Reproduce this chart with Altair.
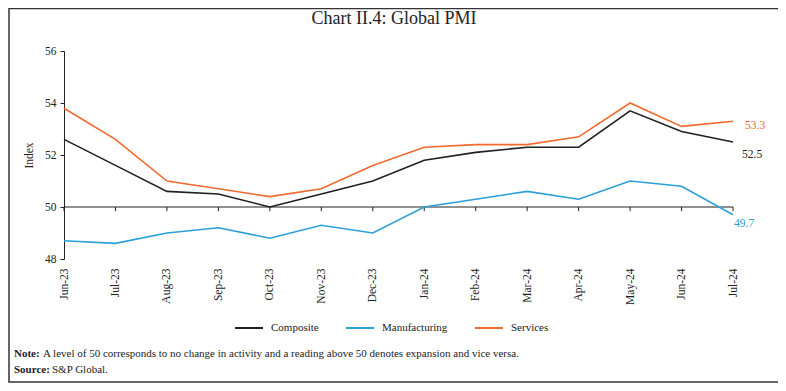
import altair as alt
import pandas as pd

months = ["Jun-23", "Jul-23", "Aug-23", "Sep-23", "Oct-23", "Nov-23", "Dec-23",
          "Jan-24", "Feb-24", "Mar-24", "Apr-24", "May-24", "Jun-24", "Jul-24"]
composite = [52.6, 51.6, 50.6, 50.5, 50.0, 50.5, 51.0, 51.8, 52.1, 52.3, 52.3, 53.7, 52.9, 52.5]
manufacturing = [48.7, 48.6, 49.0, 49.2, 48.8, 49.3, 49.0, 50.0, 50.3, 50.6, 50.3, 51.0, 50.8, 49.7]
services = [53.8, 52.6, 51.0, 50.7, 50.4, 50.7, 51.6, 52.3, 52.4, 52.4, 52.7, 54.0, 53.1, 53.3]

series_names = ["Composite", "Manufacturing", "Services"]
series_colors = ["#231f20", "#2b9fd8", "#f26a2e"]
y_ticks = [48, 50, 52, 54, 56]

FONT = "Liberation Serif"
W, H = 669, 208

rows = []
for name, vals in zip(series_names, [composite, manufacturing, services]):
    for m, v in zip(months, vals):
        rows.append({"month": m, "series": name, "value": v})
df = pd.DataFrame(rows)

last = pd.DataFrame({
    "month": [months[-1]] * 3,
    "series": series_names,
    "value": [composite[-1], manufacturing[-1], services[-1]],
    "label": [f"{composite[-1]:.1f}", f"{manufacturing[-1]:.1f}", f"{services[-1]:.1f}"],
})

x_enc = alt.X("month:N", sort=months, scale=alt.Scale(type="point", padding=0),
              axis=alt.Axis(title=None, labelAngle=-90, domain=False, ticks=False,
                            labelPadding=9, labelFont=FONT, labelFontSize=11.5,
                            labelColor="#222"))
y_scale = alt.Scale(domain=[48, 56], nice=False, zero=False)
y_enc = alt.Y("value:Q", scale=y_scale,
              axis=alt.Axis(title="Index", values=y_ticks, grid=False, tickSize=4,
                            labelPadding=4, labelFont=FONT, labelFontSize=11.5,
                            labelColor="#222", domainColor="#222", tickColor="#222",
                            titleFont=FONT, titleFontSize=11.5, titleFontWeight="normal",
                            titleColor="#222", titlePadding=10))
color_enc = alt.Color("series:N",
                      scale=alt.Scale(domain=series_names, range=series_colors),
                      legend=alt.Legend(title=None, orient="none", direction="horizontal",
                                        legendX=170, legendY=262, symbolType="stroke",
                                        symbolSize=780, symbolStrokeWidth=2,
                                        labelFont=FONT, labelFontSize=11,
                                        labelColor="#222", columnPadding=23,
                                        labelOffset=7))

lines = alt.Chart(df).mark_line(strokeWidth=1.6).encode(x=x_enc, y=y_enc, color=color_enc)

axis50 = alt.Chart(pd.DataFrame({"v": [50]})).mark_rule(color="#222", strokeWidth=1.2).encode(
    y=alt.Y("v:Q", scale=y_scale))

ticks = alt.Chart(pd.DataFrame({"month": months, "v": [50] * len(months), "v2": [49.84] * len(months)})).mark_rule(
    color="#222", strokeWidth=1).encode(
    x=alt.X("month:N", sort=months), y=alt.Y("v:Q", scale=y_scale), y2="v2:Q")

def end_label(name, dx, dy):
    return alt.Chart(last[last.series == name]).mark_text(
        align="left", baseline="middle", dx=dx, dy=dy, font=FONT, fontSize=11.5,
        color=series_colors[series_names.index(name)]).encode(
        x=alt.X("month:N", sort=months), y=alt.Y("value:Q", scale=y_scale), text="label:N")

labels = [end_label("Services", 12, 5), end_label("Composite", 9, 13), end_label("Manufacturing", 1, 9)]

title = alt.Chart(pd.DataFrame({"t": ["Chart II.4: Global PMI"]})).mark_text(
    font=FONT, fontSize=18, fontWeight=500, color="#222", align="center", baseline="middle").encode(
    x=alt.value(330), y=alt.value(-32), text="t:N")

note = alt.Chart(pd.DataFrame({"t": ["Note:"]})).mark_text(
    font=FONT, fontSize=11, fontWeight="bold", color="#222", align="left", baseline="middle").encode(
    x=alt.value(-50), y=alt.value(303), text="t:N")
note2 = alt.Chart(pd.DataFrame({"t": ["A level of 50 corresponds to no change in activity and a reading above 50 denotes expansion and vice versa."]})).mark_text(
    font=FONT, fontSize=11, color="#222", align="left", baseline="middle").encode(
    x=alt.value(-21), y=alt.value(303), text="t:N")
src = alt.Chart(pd.DataFrame({"t": ["Source:"]})).mark_text(
    font=FONT, fontSize=11, fontWeight="bold", color="#222", align="left", baseline="middle").encode(
    x=alt.value(-50), y=alt.value(319), text="t:N")
src2 = alt.Chart(pd.DataFrame({"t": ["S&P Global."]})).mark_text(
    font=FONT, fontSize=11, color="#222", align="left", baseline="middle").encode(
    x=alt.value(-12), y=alt.value(319), text="t:N")

border = alt.Chart(pd.DataFrame({"a": [0]})).mark_rect(
    fill=None, stroke="#333", strokeWidth=1.5).encode(
    x=alt.value(-55), x2=alt.value(715), y=alt.value(-42.5), y2=alt.value(331))

chart = alt.layer(border, axis50, ticks, lines, *labels, title, note, note2, src, src2).properties(
    width=W, height=H,
    padding={"left": 56, "top": 43, "right": 45, "bottom": 124},
    autosize=alt.AutoSizeParams(type="none"),
    background="white",
).configure_view(stroke=None)

chart.save("out.html", embed_options={"renderer": "svg", "actions": False})
